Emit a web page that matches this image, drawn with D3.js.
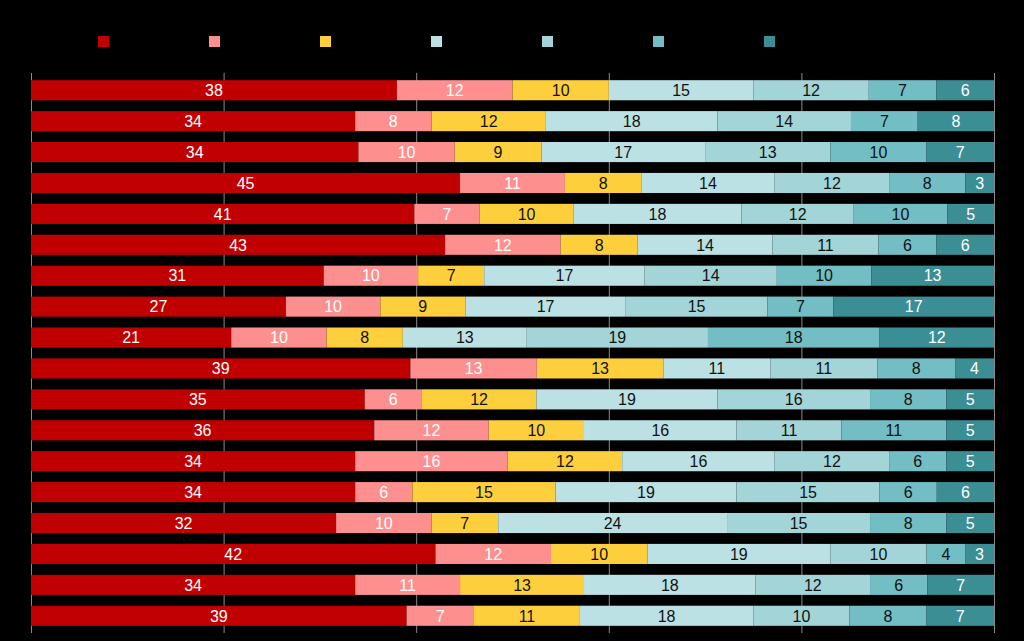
<!DOCTYPE html>
<html><head><meta charset="utf-8">
<script src="https://cdn.jsdelivr.net/npm/d3@7"></script>
<style>html,body{margin:0;padding:0;background:#000;}svg{display:block;}</style>
</head><body>
<svg id="chart" width="1024" height="641"></svg>
<script>
const series = ["s1","s2","s3","s4","s5","s6","s7"];
const colors = ["#c00000","#fe8f8f","#fecf3c","#bce1e4","#a2d4d8","#72bec4","#3c8e95"];
const labelColors = ["#ffffff","#ffffff","#111111","#111111","#111111","#111111","#ffffff"];
const rows = d3.range(1, 19).map(String);
const v1 = [38,34,34,45,41,43,31,27,21,39,35,36,34,34,32,42,34,39];
const v2 = [12,8,10,11,7,12,10,10,10,13,6,12,16,6,10,12,11,7];
const v3 = [10,12,9,8,10,8,7,9,8,13,12,10,12,15,7,10,13,11];
const v4 = [15,18,17,14,18,14,17,17,13,11,19,16,16,19,24,19,18,18];
const v5 = [12,14,13,12,12,11,14,15,19,11,16,11,12,15,15,10,12,10];
const v6 = [7,7,10,8,10,6,10,7,18,8,8,11,6,6,8,4,6,8];
const v7 = [6,8,7,3,5,6,13,17,12,4,5,5,5,6,5,3,7,7];
const xTicks = [0,20,40,60,80,100];

const allVals = [v1,v2,v3,v4,v5,v6,v7];
const table = rows.map((r,i)=>{const o={row:r}; series.forEach((s,j)=>o[s]=allVals[j][i]); return o;});
const stack = d3.stack().keys(series).offset(d3.stackOffsetExpand)(table);

const svg = d3.select("#chart");
const x = d3.scaleLinear().domain([0,1]).range([31,994]);
const xg = d3.scaleLinear().domain([0,100]).range([31,994]);
const y = d3.scaleBand().domain(rows).range([74,632]).paddingInner(0.35).paddingOuter(0.2);

// gridlines
svg.append("g").selectAll("line").data(xTicks).join("line")
  .attr("x1",d=>xg(d)+0.5).attr("x2",d=>xg(d)+0.5)
  .attr("y1",73).attr("y2",633)
  .attr("stroke","#8a8a8a").attr("stroke-width",1);

const layers = svg.append("g").selectAll("g").data(stack).join("g")
  .attr("fill",(d,i)=>colors[i]);
layers.selectAll("rect").data(d=>d).join("rect")
  .attr("x",d=>x(d[0])).attr("width",d=>x(d[1])-x(d[0]))
  .attr("y",d=>y(d.data.row)).attr("height",y.bandwidth());

const labels = svg.append("g").selectAll("g").data(stack).join("g")
  .attr("fill",(d,i)=>labelColors[i]);
labels.selectAll("text").data(d=>d.map(p=>({p,key:d.key}))).join("text")
  .attr("x",d=>(x(d.p[0])+x(d.p[1]))/2)
  .attr("y",d=>y(d.p.data.row)+y.bandwidth()/2)
  .attr("dy","0.36em")
  .attr("text-anchor","middle")
  .attr("font-family","Liberation Sans, Arial, sans-serif")
  .attr("font-size",16)
  .text(d=>d.p.data[d.key]);

// legend
const lx = d3.scalePoint().domain(series).range([98,764]);
svg.append("g").selectAll("rect").data(series).join("rect")
  .attr("x",d=>lx(d)).attr("y",36).attr("width",11).attr("height",11)
  .attr("fill",(d,i)=>colors[i]);
</script>
</body></html>
